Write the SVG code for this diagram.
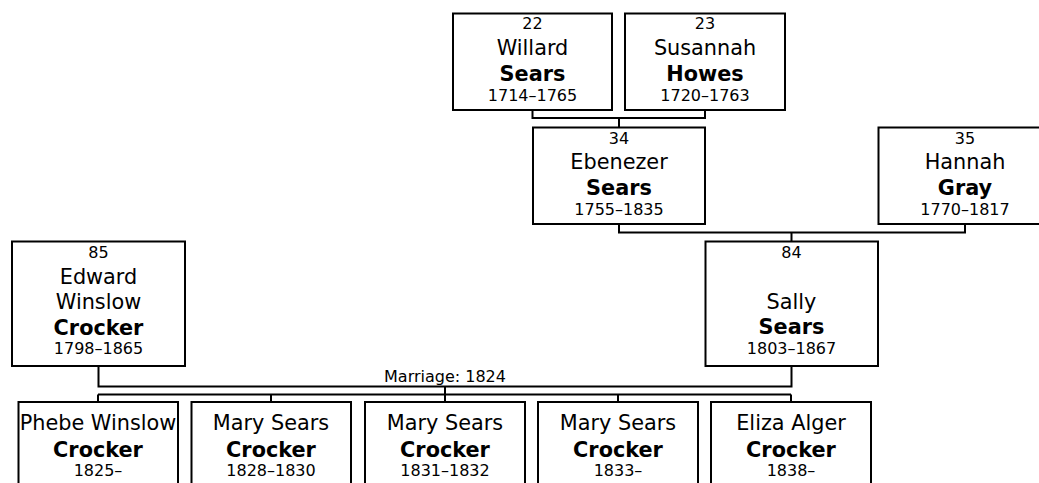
<svg xmlns="http://www.w3.org/2000/svg" width="1039" height="483" viewBox="0 0 1039 483">
<style>
.box{fill:#fff;stroke:#000;stroke-width:2}
.con{fill:none;stroke:#000;stroke-width:2}
text{font-family:"DejaVu Sans",Verdana,"Liberation Sans",sans-serif;text-anchor:middle;fill:#000}
.num{font-size:16px}
.nm{font-size:20.8px}
.sn{font-size:20.8px;font-weight:bold}
.dt{font-size:16px}
.lbl{font-size:16px}
</style>
<rect width="1039" height="483" fill="#fff"/>
<g id="connectors">
<path class="con" d="M532.5 110V118H705V110M619 118V127.5"/>
<path class="con" d="M619 224V232.5H965V224M791.5 232.5V241.5"/>
<path class="con" d="M98.5 366V386.5H791.5V366"/>
<path class="con" d="M445 386.5V394.5M98 394.5H791M98 394.5V402M271 394.5V402M445 394.5V402M618 394.5V402M791 394.5V402"/>
<text class="lbl" x="445" y="382">Marriage: 1824</text>
</g>
<g id="p22">
<rect class="box" x="453" y="13.5" width="159" height="96.5"/>
<text class="num" x="532.5" y="29">22</text>
<text class="nm" x="532.5" y="54.5">Willard</text>
<text class="sn" x="532.5" y="81">Sears</text>
<text class="dt" x="532.5" y="101">1714–1765</text>
</g>
<g id="p23">
<rect class="box" x="625" y="13.5" width="160" height="96.5"/>
<text class="num" x="705" y="29">23</text>
<text class="nm" x="705" y="54.5">Susannah</text>
<text class="sn" x="705" y="81">Howes</text>
<text class="dt" x="705" y="101">1720–1763</text>
</g>
<g id="p34">
<rect class="box" x="533" y="127.5" width="172" height="96.5"/>
<text class="num" x="619" y="144">34</text>
<text class="nm" x="619" y="168.5">Ebenezer</text>
<text class="sn" x="619" y="194.5">Sears</text>
<text class="dt" x="619" y="214.5">1755–1835</text>
</g>
<g id="p35">
<rect class="box" x="878.5" y="127.5" width="173.5" height="96.5"/>
<text class="num" x="965" y="144">35</text>
<text class="nm" x="965" y="168.5">Hannah</text>
<text class="sn" x="965" y="194.5">Gray</text>
<text class="dt" x="965" y="214.5">1770–1817</text>
</g>
<g id="p85">
<rect class="box" x="12" y="241.5" width="173" height="124.5"/>
<text class="num" x="98.5" y="257.5">85</text>
<text class="nm" x="98.5" y="283.5">Edward</text>
<text class="nm" x="98.5" y="309">Winslow</text>
<text class="sn" x="98.5" y="335">Crocker</text>
<text class="dt" x="98.5" y="353.5">1798–1865</text>
</g>
<g id="p84">
<rect class="box" x="705.5" y="241.5" width="172.5" height="124.5"/>
<text class="num" x="791.5" y="257.5">84</text>
<text class="nm" x="791.5" y="308.5">Sally</text>
<text class="sn" x="791.5" y="334">Sears</text>
<text class="dt" x="791.5" y="354">1803–1867</text>
</g>
<g id="c1">
<rect class="box" x="18.5" y="402" width="159.5" height="90"/>
<text class="nm" x="98" y="430">Phebe Winslow</text>
<text class="sn" x="98" y="456.5">Crocker</text>
<text class="dt" x="98" y="476">1825–</text>
</g>
<g id="c2">
<rect class="box" x="191.5" y="402" width="159.5" height="90"/>
<text class="nm" x="271" y="430">Mary Sears</text>
<text class="sn" x="271" y="456.5">Crocker</text>
<text class="dt" x="271" y="476">1828–1830</text>
</g>
<g id="c3">
<rect class="box" x="365" y="402" width="160" height="90"/>
<text class="nm" x="445" y="430">Mary Sears</text>
<text class="sn" x="445" y="456.5">Crocker</text>
<text class="dt" x="445" y="476">1831–1832</text>
</g>
<g id="c4">
<rect class="box" x="538" y="402" width="160" height="90"/>
<text class="nm" x="618" y="430">Mary Sears</text>
<text class="sn" x="618" y="456.5">Crocker</text>
<text class="dt" x="618" y="476">1833–</text>
</g>
<g id="c5">
<rect class="box" x="711" y="402" width="160" height="90"/>
<text class="nm" x="791" y="430">Eliza Alger</text>
<text class="sn" x="791" y="456.5">Crocker</text>
<text class="dt" x="791" y="476">1838–</text>
</g>
</svg>
